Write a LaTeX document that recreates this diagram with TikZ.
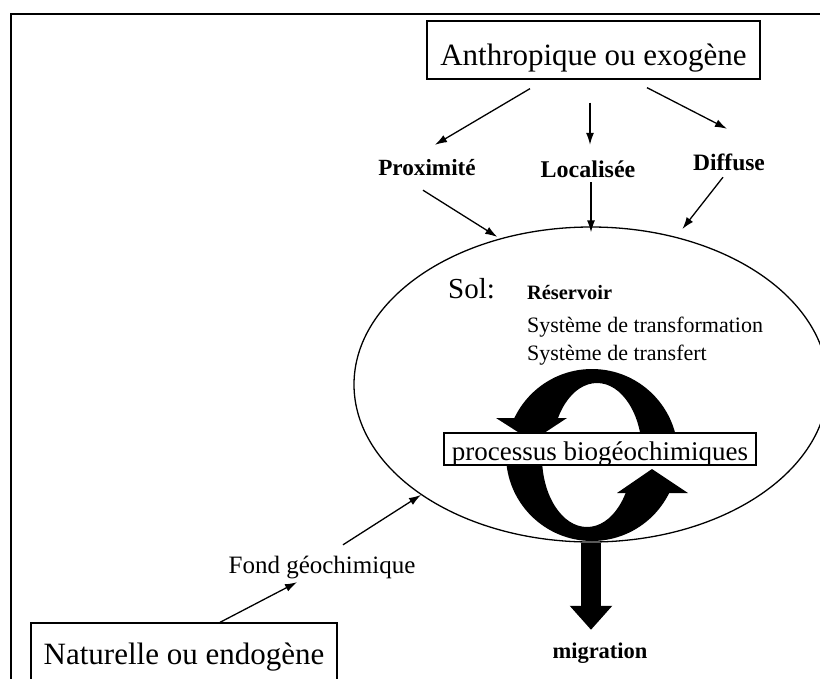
\documentclass[tikz,border=0pt]{standalone}
\usepackage{fontspec}
\setmainfont{Liberation Serif}
\usetikzlibrary{arrows.meta,shapes.geometric}

\begin{document}
\begin{tikzpicture}[x=1pt,y=-1pt,>={Latex[length=12pt,width=8pt]},
  boite/.style={draw,line width=1.3pt,inner sep=0pt,font=\fontsize{31}{31}\selectfont},
  etiq/.style={inner sep=0pt,text height=17pt,text depth=0pt,anchor=base,font=\fontsize{25}{25}\selectfont},
  gras/.style={etiq,font=\fontsize{23.5}{24}\selectfont\bfseries},
  fl/.style={->,line width=1.3pt},
  petit/.style={anchor=base west,inner sep=0pt,font=\fontsize{22}{22}\selectfont}]
  \useasboundingbox (0,0) rectangle (820,678);
  \fill[white] (0,0) rectangle (820,678);
  % cadre
  \draw[line width=2pt] (11,14) rectangle (840,700);
  % sources
  \node[boite,minimum width=333pt,text height=44pt,text depth=14pt] (anthro) at (593.5,50) {Anthropique ou exogène};
  \node[boite,minimum width=306pt,text height=41pt,text depth=26pt] (natur) at (184,656.5) {Naturelle ou endogène};
  \node[gras,font=\fontsize{23.2}{24}\selectfont\bfseries] (prox) at (427,175) {Proximité};
  \node[gras,font=\fontsize{24}{24}\selectfont\bfseries] (loc) at (588,177) {Localisée};
  \node[gras] (diff) at (729,170) {Diffuse};
  \node[etiq,text depth=5pt] (fond) at (322,573) {Fond géochimique};
  % sol
  \node[draw,ellipse,line width=1.3pt,minimum width=474pt,minimum height=315pt,inner sep=0pt] (sol) at (591,384.5) {};
  \node[anchor=base west,inner sep=0pt,font=\fontsize{29}{29}\selectfont] (soltxt) at (448,298) {Sol:};
  \node[petit,font=\fontsize{20.4}{22}\selectfont\bfseries] (res) at (527,299) {Réservoir};
  \node[petit] (transfo) at (527,332) {Système de transformation};
  \node[petit] (transf) at (527,360) {Système de transfert};
  % cycle (deux fleches courbes)
  \begin{scope}[shift={(592,455)}]
    \begin{scope}
      \clip (-110,-110) rectangle (0,-37) (0,-110) rectangle (110,0);
      \fill[even odd rule] (0,0) circle[radius=86pt] (5,-2) ellipse[x radius=45pt,y radius=70pt];
    \end{scope}
    \begin{scope}
      \clip (0,110) rectangle (110,38) (-110,110) rectangle (0,0);
      \fill[even odd rule] (0,0) circle[radius=86pt] (-5,2) ellipse[x radius=45pt,y radius=70pt];
    \end{scope}
    \fill (-96,-37) -- (-25,-37) -- (-60,-14) -- cycle;
    \fill (25,38) -- (96,38) -- (60,14) -- cycle;
  \end{scope}
  \node[draw,fill=white,line width=1.3pt,inner sep=0pt,minimum width=312pt,text height=27pt,text depth=5pt,font=\fontsize{27}{27}\selectfont] (proc) at (600,449) {processus biogéochimiques};
  % migration
  \node[gras,text depth=5pt,font=\fontsize{22.5}{24}\selectfont\bfseries] (migr) at (600,658) {migration};
  \draw[line width=20pt,-{Triangle[length=24pt,width=41pt]},shorten >=11pt] (sol.south) -- (sol.south |- migr.north);
  % fleches
  \draw[fl] ([shift={(-63.5,9)}]anthro.south) -- ([shift={(8,-13)}]prox.north);
  \draw[fl] ([shift={(-3.5,23)}]anthro.south) -- ([shift={(2,-15)}]loc.north);
  \draw[fl] ([shift={(53.5,8)}]anthro.south) -- ([shift={(-2,-24)}]diff.north);
  \draw[fl,shorten >=3pt] ([shift={(-4,15)}]prox.south) -- (sol.122);
  \draw[fl,shorten >=-6pt] ([shift={(3,5)}]loc.south) -- (sol.north);
  \draw[fl,shorten >=10pt] ([shift={(-6,7)}]diff.south) -- (sol.60);
  \draw[fl] ([xshift=36pt]natur.north) -- ([shift={(-25,4)}]fond.south);
  \draw[fl] ([shift={(21,-11)}]fond.north) -- (sol.213);
\end{tikzpicture}
\end{document}
